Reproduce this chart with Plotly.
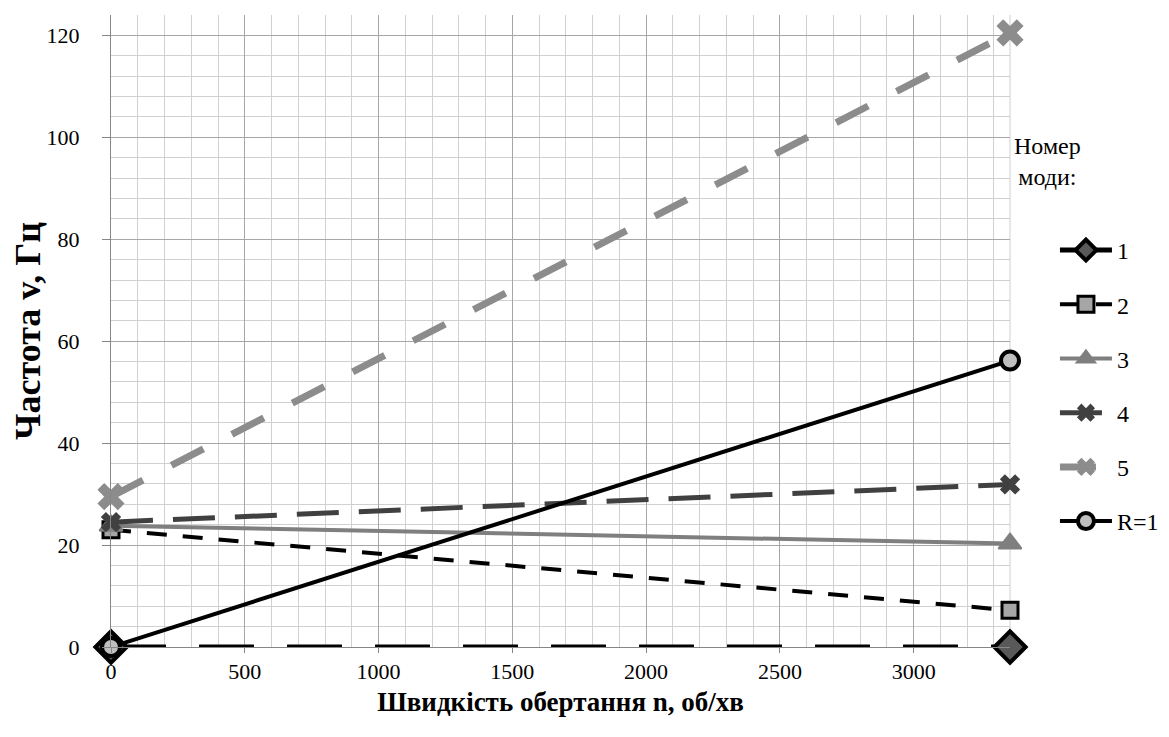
import plotly.graph_objects as go

# Data
speed = [0, 3360]
mode1 = [0, 0]
mode2 = [23.0, 7.2]
mode3 = [23.8, 20.3]
mode4 = [24.5, 31.9]
mode5 = [29.5, 120.5]
r1 = [0, 56.2]
names = ["1", "2", "3", "4", "5", "R=1"]

FONT = "Liberation Serif, Times New Roman, serif"

fig = go.Figure()

fig.add_trace(go.Scatter(
    x=speed, y=mode1, name=names[0], mode="lines+markers", legendgroup="g1",
    line=dict(color="black", width=5, dash="55px,33px"),
    marker=dict(symbol="diamond", size=24, color="#595959", line=dict(color="black", width=4)),
    cliponaxis=False))
fig.add_trace(go.Scatter(
    x=speed, y=mode2, name=names[1], mode="lines+markers", legendgroup="g2",
    line=dict(color="black", width=4, dash="20px,16px"),
    marker=dict(symbol="square", size=16, color="#a6a6a6", line=dict(color="black", width=3)),
    cliponaxis=False))
fig.add_trace(go.Scatter(
    x=speed, y=mode3, name=names[2], mode="lines+markers", legendgroup="g3",
    line=dict(color="#7f7f7f", width=4),
    marker=dict(symbol="triangle-up", size=20, color="#7f7f7f", line=dict(color="#7f7f7f", width=2)),
    cliponaxis=False))
fig.add_trace(go.Scatter(
    x=speed, y=mode4, name=names[3], mode="lines+markers", legendgroup="g4",
    line=dict(color="#404040", width=5, dash="42px,20px"),
    marker=dict(symbol="x", size=18, color="#404040", line=dict(width=0)),
    cliponaxis=False))
fig.add_trace(go.Scatter(
    x=speed, y=mode5, name=names[4], mode="lines+markers", legendgroup="g5",
    line=dict(color="#8c8c8c", width=7, dash="36px,32px"),
    marker=dict(symbol="x", size=24, color="#8c8c8c", line=dict(width=0)),
    cliponaxis=False))
fig.add_trace(go.Scatter(
    x=speed, y=r1, name=names[5], mode="lines+markers", legendgroup="g6",
    line=dict(color="black", width=4),
    marker=dict(symbol="circle", size=18, color="#bfbfbf", line=dict(color="black", width=4)),
    cliponaxis=False))

fig.update_layout(
    width=1161, height=729,
    margin=dict(l=103, r=159, t=7, b=90, autoexpand=False),
    paper_bgcolor="white", plot_bgcolor="white",
    font=dict(family=FONT, size=22, color="black"),
    showlegend=True,
    legend=dict(x=1.05, y=0.663, xanchor="left", yanchor="top",
                traceorder="grouped", tracegroupgap=20, itemwidth=52,
                font=dict(family=FONT, size=24, color="black"),
                bgcolor="rgba(0,0,0,0)"),
    xaxis=dict(range=[0, 3360], tick0=0, dtick=500,
               showgrid=True, gridcolor="#a6a6a6", gridwidth=1,
               minor=dict(dtick=100, showgrid=True, gridcolor="#d0d0d0", gridwidth=1,
                          ticks=""),
               showline=True, linecolor="#868686", linewidth=1,
               ticks="outside", ticklen=5, tickcolor="#868686",
               zeroline=False,
               tickfont=dict(family=FONT, size=22),
               title=dict(text="<b>Швидкість обертання n, об/хв</b>",
                          font=dict(family=FONT, size=27), standoff=8)),
    yaxis=dict(range=[0, 124], tick0=0, dtick=20,
               showgrid=True, gridcolor="#a6a6a6", gridwidth=1,
               minor=dict(dtick=4, showgrid=True, gridcolor="#d0d0d0", gridwidth=1,
                          ticks=""),
               showline=True, linecolor="#868686", linewidth=1,
               ticks="outside", ticklen=8, tickcolor="#868686",
               ticklabelstandoff=18,
               zeroline=False,
               tickfont=dict(family=FONT, size=22),
               title=dict(text="<b>Частота v, Гц</b>",
                          font=dict(family=FONT, size=36), standoff=4)),
    shapes=[dict(type="line", xref="paper", yref="paper", x0=1, x1=1, y0=0, y1=1,
                 line=dict(color="#d0d0d0", width=1), layer="below")],
    annotations=[dict(text="Номер<br>моди:", xref="paper", yref="paper",
                      x=1.042, y=0.768, xanchor="center", yanchor="middle",
                      showarrow=False, align="center",
                      font=dict(family=FONT, size=24, color="black"))],
)

fig.write_html("out.html")
